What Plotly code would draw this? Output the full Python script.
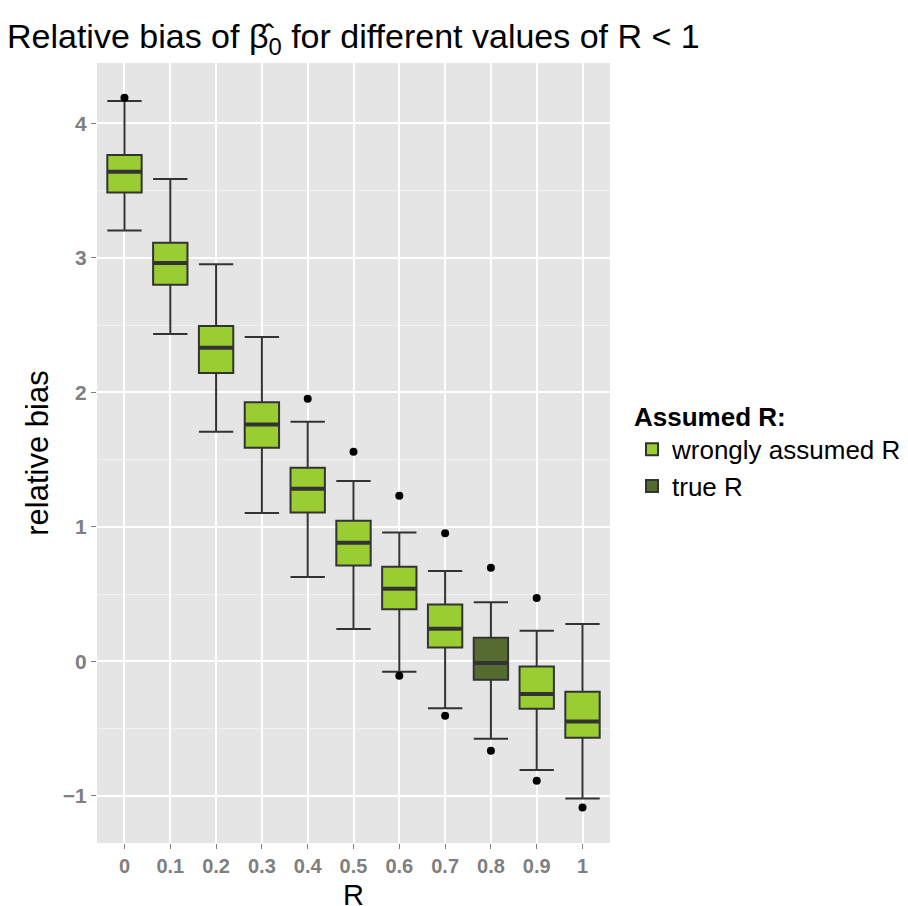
import plotly.graph_objects as go

# ---- data ----
R_labels = ["0", "0.1", "0.2", "0.3", "0.4", "0.5", "0.6", "0.7", "0.8", "0.9", "1"]
upper = [4.167, 3.587, 2.952, 2.412, 1.782, 1.341, 0.959, 0.672, 0.439, 0.228, 0.278]
q3 = [3.765, 3.113, 2.494, 1.926, 1.440, 1.046, 0.704, 0.424, 0.176, -0.037, -0.225]
median = [3.641, 2.962, 2.332, 1.762, 1.284, 0.883, 0.541, 0.242, -0.012, -0.242, -0.446]
q1 = [3.487, 2.801, 2.144, 1.589, 1.108, 0.714, 0.387, 0.104, -0.136, -0.352, -0.567]
lower = [3.204, 2.434, 1.708, 1.103, 0.628, 0.241, -0.077, -0.349, -0.575, -0.807, -1.019]
true_R = "0.8"
outlier_R = ["0", "0.4", "0.5", "0.6", "0.6", "0.7", "0.7", "0.8", "0.8", "0.9", "0.9", "1"]
outlier_val = [4.19, 1.953, 1.559, 1.232, -0.107, 0.952, -0.404, 0.697, -0.664, 0.471, -0.887, -1.086]
y_tickvals = [-1, 0, 1, 2, 3, 4]
y_ticktext = ["\u22121", "0", "1", "2", "3", "4"]

groups = [("wrongly assumed R", "#9ACD32", lambda r: r != true_R),
          ("true R", "#556B2F", lambda r: r == true_R)]

BOX_W = 0.75
LINE = "#333333"
FONT = "Liberation Sans, Arial, sans-serif"

fig = go.Figure()
for name, color, sel in groups:
    idx = [i for i, r in enumerate(R_labels) if sel(r)]
    fig.add_trace(go.Box(
        name=name,
        x=idx,
        q1=[q1[i] for i in idx],
        median=[median[i] for i in idx],
        q3=[q3[i] for i in idx],
        lowerfence=[lower[i] for i in idx],
        upperfence=[upper[i] for i in idx],
        width=BOX_W,
        whiskerwidth=1,
        fillcolor=color,
        line=dict(color=LINE, width=2),
        boxpoints=False,
        showlegend=True,
    ))

# thicker median lines (ggplot fatten)
mx, my = [], []
for i, m in enumerate(median):
    mx += [i - BOX_W / 2, i + BOX_W / 2, None]
    my += [m, m, None]
fig.add_trace(go.Scatter(x=mx, y=my, mode="lines", line=dict(color=LINE, width=4),
                         showlegend=False, hoverinfo="skip"))

# outliers
fig.add_trace(go.Scatter(x=[R_labels.index(r) for r in outlier_R], y=outlier_val,
                         mode="markers", marker=dict(color="black", size=8),
                         showlegend=False))

fig.update_layout(
    width=908, height=906,
    margin=dict(l=97, r=298, t=63, b=63, autoexpand=False),
    paper_bgcolor="white",
    plot_bgcolor="#E5E5E5",
    boxmode="overlay",
    font=dict(family=FONT, color="black"),
    title=dict(text="Relative bias of \u03b2\u0302<sub>0</sub> for different values of R < 1",
               font=dict(size=34, color="black"),
               x=7 / 908, xanchor="left", xref="container",
               y=1 - 36 / 906, yanchor="middle", yref="container"),
    legend=dict(title=dict(text="<b>Assumed R:</b>", font=dict(size=26)),
                font=dict(size=26),
                x=632 / 908, xanchor="left", xref="container",
                y=1 - 392 / 906, yanchor="top", yref="container",
                bgcolor="rgba(0,0,0,0)", tracegroupgap=0),
    xaxis=dict(
        range=[-0.6, len(R_labels) - 1 + 0.6],
        tickvals=list(range(len(R_labels))), ticktext=R_labels,
        showgrid=True, gridcolor="white", gridwidth=1.5,
        zeroline=False, showline=False, automargin=False,
        ticks="outside", ticklen=5, tickwidth=1.2, tickcolor="#7F7F7F",
        tickfont=dict(size=20, color="#7F7F7F", weight="bold"),
    ),
    yaxis=dict(
        range=[-1.350, 4.449],
        tickvals=y_tickvals, ticktext=y_ticktext,
        showgrid=True, gridcolor="white", gridwidth=1.5,
        zeroline=False, showline=False, automargin=False,
        ticks="outside", ticklen=5, tickwidth=1.2, tickcolor="#7F7F7F",
        tickfont=dict(size=21, color="#7F7F7F", weight="bold"),
        minor=dict(dtick=0.5, tick0=0.5, showgrid=True, gridcolor="#F2F2F2", gridwidth=0.8, ticks=""),
        title=dict(text="relative bias", font=dict(size=31, color="black"), standoff=4),
    ),
    annotations=[dict(text="R", xref="paper", yref="paper", x=0.5, y=-0.067,
                      xanchor="center", yanchor="middle", showarrow=False,
                      font=dict(size=29, color="black"))],
)

fig.write_html("out.html")
